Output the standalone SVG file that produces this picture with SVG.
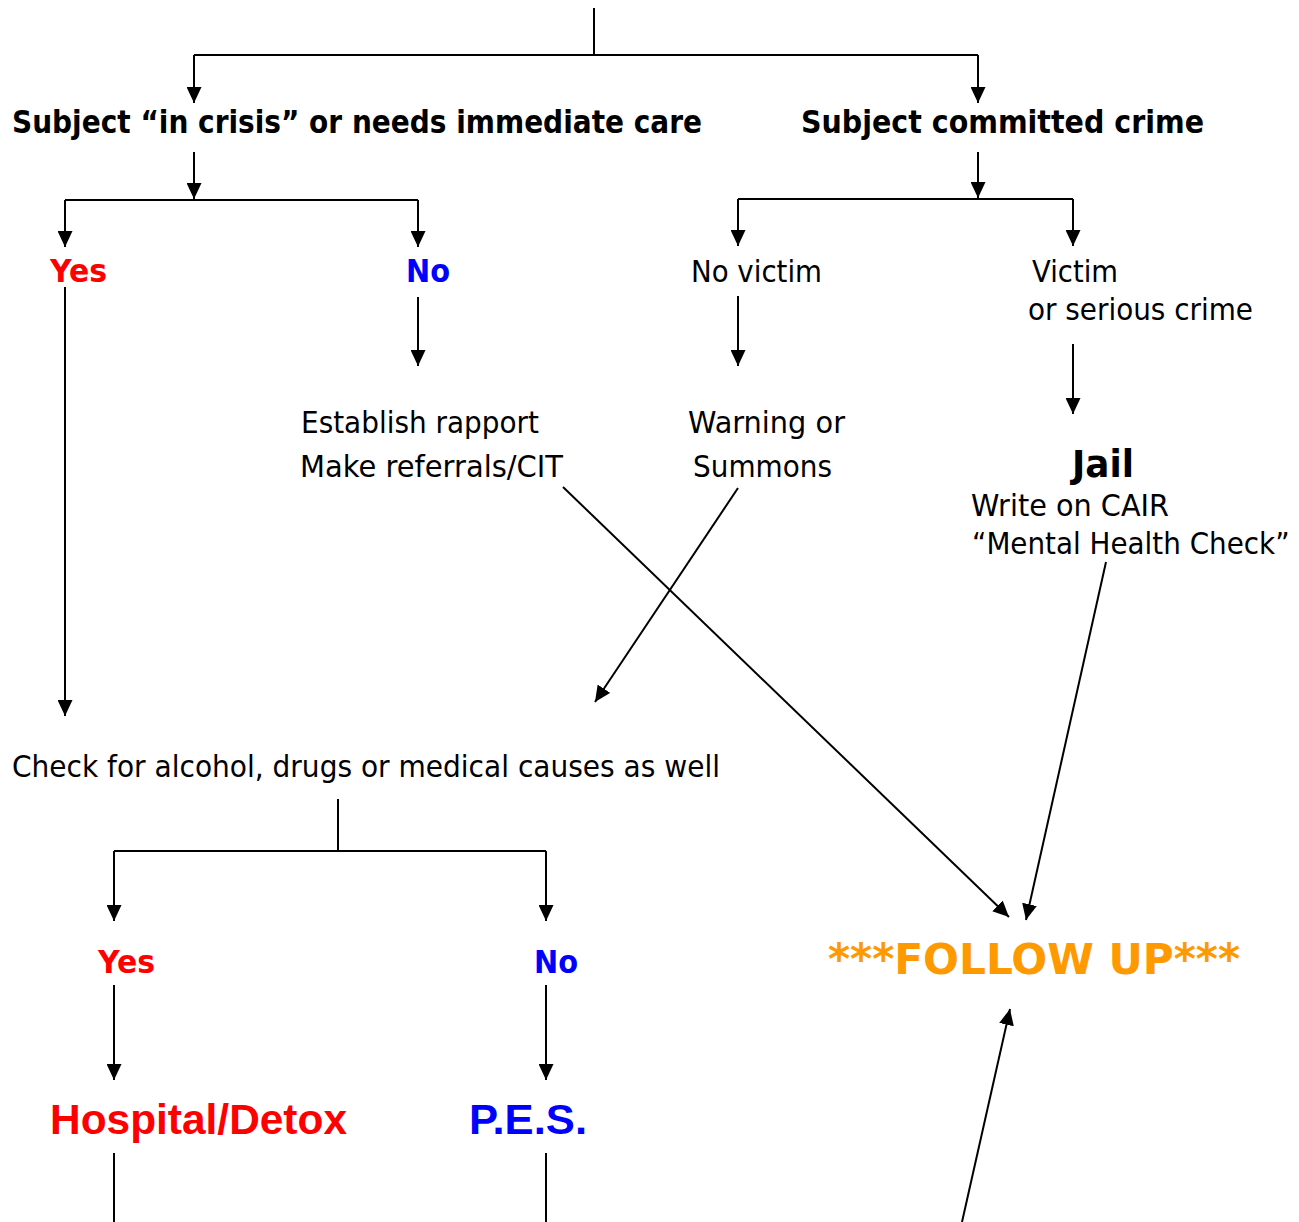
<svg xmlns="http://www.w3.org/2000/svg" width="1299" height="1222" viewBox="0 0 1299 1222">
<style>
.ln{fill:none;stroke:#000;stroke-width:2}
.ar{fill:none;stroke:#000;stroke-width:2;marker-end:url(#ah)}
.t{font-family:"DejaVu Sans",Verdana,sans-serif;font-size:31px;fill:#000}
.b{font-family:"DejaVu Sans",Verdana,sans-serif;font-size:32px;font-weight:bold;fill:#000}
.red{fill:#FF0000}
.blue{fill:#0000FF}
.big{font-family:"Liberation Sans",Arial,sans-serif;font-size:43px;font-weight:bold}
.fu{font-family:"DejaVu Sans",Verdana,sans-serif;font-size:43px;font-weight:bold;fill:#FF9900}
</style>
<defs>
<marker id="ah" markerUnits="userSpaceOnUse" markerWidth="16" markerHeight="15" refX="16" refY="7.5" orient="auto" viewBox="0 0 16 15">
<path d="M0,0 L16,7.5 L0,15 Z" fill="#000"/>
</marker>
</defs>
<rect width="1299" height="1222" fill="#fff"/>
<g id="connectors">
<path class="ln" d="M594,8 V55 M194,55 H978"/>
<path class="ar" d="M194,55 V103"/>
<path class="ar" d="M978,55 V103"/>
<path class="ar" d="M194,152 V199"/>
<path class="ln" d="M65,200 H418"/>
<path class="ar" d="M65,200 V247"/>
<path class="ar" d="M418,200 V247"/>
<path class="ar" d="M978,152 V198"/>
<path class="ln" d="M738,199 H1073"/>
<path class="ar" d="M738,199 V246"/>
<path class="ar" d="M1073,199 V246"/>
<path class="ar" d="M65,287 V716"/>
<path class="ar" d="M418,297 V366"/>
<path class="ar" d="M738,296 V366"/>
<path class="ar" d="M1073,344 V414"/>
<path class="ar" d="M563,487 L1009,917"/>
<path class="ar" d="M738,488 L595,702"/>
<path class="ar" d="M1106,562 L1026,920"/>
<path class="ar" d="M962,1222 L1010,1009"/>
<path class="ln" d="M338,799 V851 M114,851 H546"/>
<path class="ar" d="M114,851 V921"/>
<path class="ar" d="M546,851 V921"/>
<path class="ar" d="M114,985 V1080"/>
<path class="ar" d="M546,985 V1080"/>
<path class="ln" d="M114,1153 V1222 M546,1153 V1222"/>
</g>
<g id="crisis"><text class="b" x="12" y="133" textLength="690" lengthAdjust="spacingAndGlyphs">Subject “in crisis” or needs immediate care</text></g>
<g id="crime"><text class="b" x="801" y="133" textLength="403" lengthAdjust="spacingAndGlyphs">Subject committed crime</text></g>
<g id="yes1"><text class="b red" x="50" y="282" textLength="57" lengthAdjust="spacingAndGlyphs">Yes</text></g>
<g id="no1"><text class="b blue" x="406" y="282" textLength="44" lengthAdjust="spacingAndGlyphs">No</text></g>
<g id="novictim"><text class="t" x="691" y="282" textLength="131" lengthAdjust="spacingAndGlyphs">No victim</text></g>
<g id="victim"><text class="t" x="1032" y="282" textLength="86" lengthAdjust="spacingAndGlyphs">Victim</text><text class="t" x="1028" y="320" textLength="225" lengthAdjust="spacingAndGlyphs">or serious crime</text></g>
<g id="rapport"><text class="t" x="301" y="433" textLength="238" lengthAdjust="spacingAndGlyphs">Establish rapport</text><text class="t" x="300" y="477" textLength="263" lengthAdjust="spacingAndGlyphs">Make referrals/CIT</text></g>
<g id="warning"><text class="t" x="688" y="433" textLength="157" lengthAdjust="spacingAndGlyphs">Warning or</text><text class="t" x="693" y="477" textLength="139" lengthAdjust="spacingAndGlyphs">Summons</text></g>
<g id="jail"><text class="b" style="font-size:37px" x="1072" y="477" textLength="62" lengthAdjust="spacingAndGlyphs">Jail</text><text class="t" x="971" y="516" textLength="198" lengthAdjust="spacingAndGlyphs">Write on CAIR</text><text class="t" transform="translate(972,554) scale(0.87,1)" x="0" y="0" textLength="365" lengthAdjust="spacingAndGlyphs">“Mental Health Check”</text></g>
<g id="check"><text class="t" x="12" y="777" textLength="708" lengthAdjust="spacingAndGlyphs">Check for alcohol, drugs or medical causes as well</text></g>
<g id="yes2"><text class="b red" x="98" y="973" textLength="57" lengthAdjust="spacingAndGlyphs">Yes</text></g>
<g id="no2"><text class="b blue" x="534" y="973" textLength="44" lengthAdjust="spacingAndGlyphs">No</text></g>
<g id="hospital"><text class="big red" x="50" y="1134" textLength="297" lengthAdjust="spacingAndGlyphs">Hospital/Detox</text></g>
<g id="pes"><text class="big blue" x="469" y="1134" textLength="118" lengthAdjust="spacingAndGlyphs">P.E.S.</text></g>
<g id="followup"><text class="fu" x="828" y="974" textLength="412" lengthAdjust="spacingAndGlyphs">***FOLLOW UP***</text></g>
</svg>
